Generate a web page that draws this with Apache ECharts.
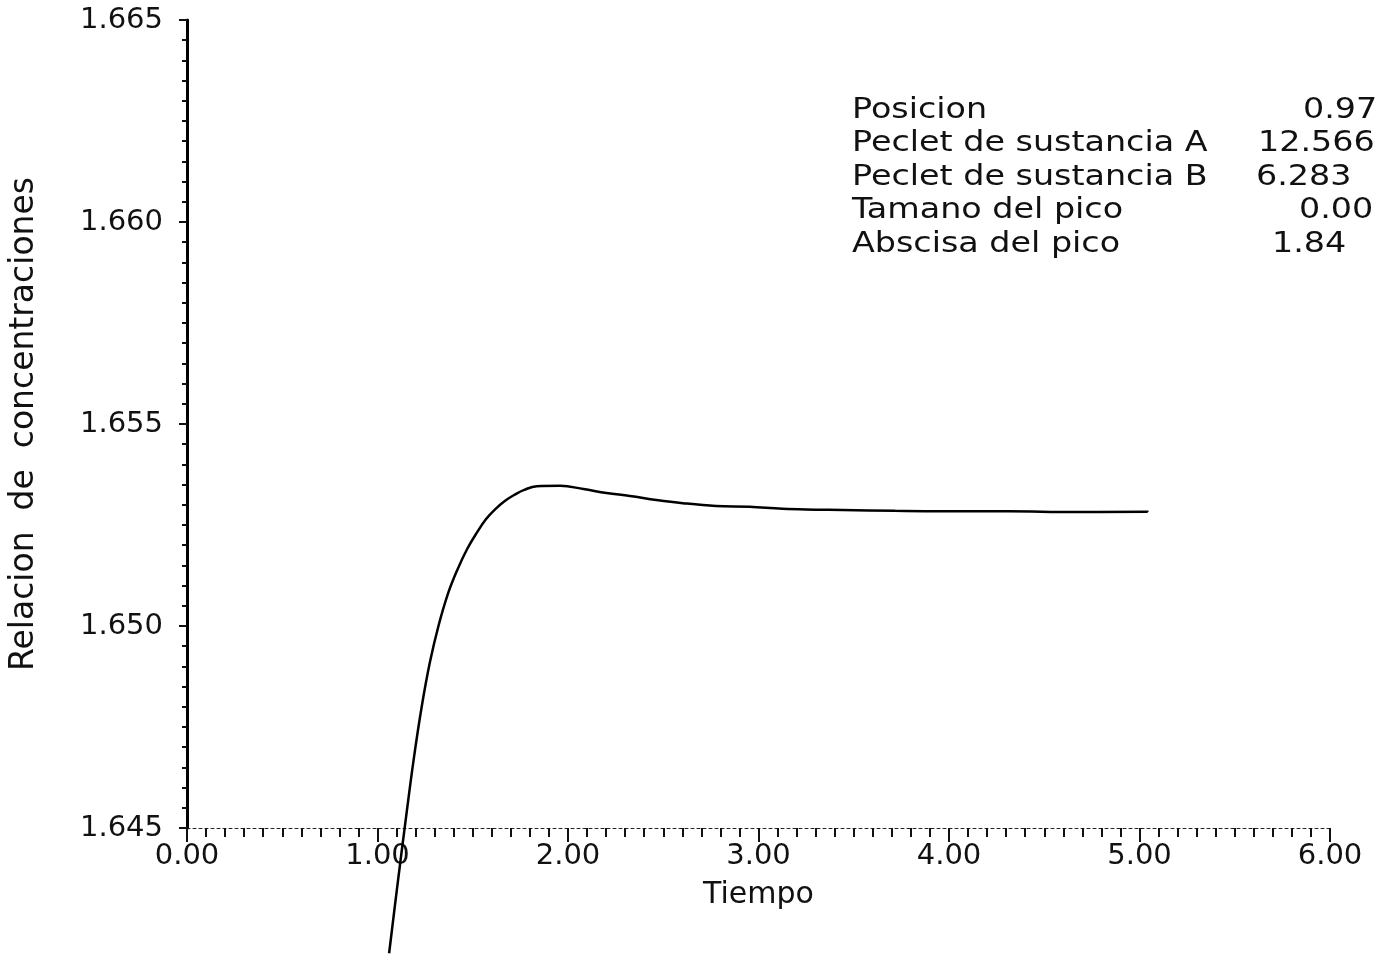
<!DOCTYPE html>
<html>
<head>
<meta charset="utf-8">
<title>Relacion de concentraciones</title>
<script src="https://cdn.jsdelivr.net/npm/echarts@6/dist/echarts.min.js"></script>
<style>
  html, body { margin: 0; padding: 0; background: #fff; }
  #chart { width: 1377px; height: 959px; }
</style>
</head>
<body>
<div id="chart"></div>
<script>
// valores (Tiempo, Relacion)
const tiempo = [1.061, 1.105, 1.148, 1.190, 1.232, 1.275, 1.320, 1.370, 1.420, 1.470, 1.520, 1.570, 1.620, 1.670, 1.720, 1.770, 1.836, 1.959, 2.081, 2.202, 2.325, 2.464, 2.603, 2.777, 2.952, 3.126, 3.300, 3.440, 3.717, 3.962, 4.311, 4.658, 5.043];
const relacion = [1.6419, 1.6436, 1.6452, 1.6467, 1.6480, 1.6491, 1.6500, 1.6508, 1.6514, 1.6519, 1.6523, 1.65265, 1.6529, 1.6531, 1.65325, 1.65337, 1.65346, 1.65347, 1.65339, 1.65329, 1.65322, 1.65312, 1.65304, 1.65297, 1.65295, 1.65290, 1.65288, 1.65287, 1.65285, 1.65284, 1.65284, 1.65282, 1.65283];

// cuadro de parametros
const paramNames = ['Posicion', 'Peclet de sustancia A', 'Peclet de sustancia B', 'Tamano del pico', 'Abscisa del pico'];
const paramValues = ['0.97', '12.566', '6.283', '0.00', '1.84'];
const paramValueX = [1303, 1258, 1256, 1299, 1272];

const FONT = 'DejaVu Sans';

const chart = echarts.init(document.getElementById('chart'));

// texto un poco ensanchado, como la letra del plotter
const textStyle = (text) => ({
  text: text,
  font: `29px "${FONT}"`,
  fill: '#111',
  textAlign: 'left',
  textVerticalAlign: 'middle',
});

const graphics = [];
paramNames.forEach((name, i) => {
  const y = 110 + i * 33.5;
  graphics.push({ type: 'text', x: 852, y: y, scaleX: 1.15, style: textStyle(name) });
  graphics.push({ type: 'text', x: paramValueX[i], y: y, scaleX: 1.15, style: textStyle(paramValues[i]) });
});

const option = {
  backgroundColor: '#fff',
  animation: false,
  grid: {
    left: 184,
    right: 47,
    top: 20,
    bottom: 131,
  },
  xAxis: {
    type: 'value',
    min: 0,
    max: 6,
    interval: 1,
    name: 'Tiempo',
    nameLocation: 'middle',
    nameGap: 52,
    nameTextStyle: { fontFamily: FONT, fontSize: 30, color: '#111' },
    axisLine: {
      show: true,
      lineStyle: { color: '#222', width: 1, type: [3, 3] },
    },
    axisTick: { show: true, length: 14, lineStyle: { color: '#111', width: 2 } },
    minorTick: { show: true, splitNumber: 10, length: 9, lineStyle: { color: '#111', width: 2 } },
    axisLabel: {
      fontFamily: FONT,
      fontSize: 29,
      color: '#111',
      margin: 14,
      formatter: (v) => v.toFixed(2),
    },
    splitLine: { show: false },
  },
  yAxis: {
    type: 'value',
    min: 1.645,
    max: 1.665,
    interval: 0.005,
    name: 'Relacion  de  concentraciones',
    nameLocation: 'middle',
    nameGap: 146,
    nameTextStyle: { fontFamily: FONT, fontSize: 33, color: '#111' },
    axisLine: { show: true, lineStyle: { color: '#000', width: 3 } },
    axisTick: { show: true, length: 8, lineStyle: { color: '#111', width: 2 } },
    minorTick: { show: true, splitNumber: 10, length: 5, lineStyle: { color: '#111', width: 2 } },
    axisLabel: {
      fontFamily: FONT,
      fontSize: 29,
      color: '#111',
      margin: 24,
      formatter: (v) => v.toFixed(3),
    },
    splitLine: { show: false },
  },
  graphic: graphics,
  series: [
    {
      type: 'line',
      data: tiempo.map((t, i) => [t, relacion[i]]),
      showSymbol: false,
      smooth: 0.4,
      clip: false, // la curva baja por debajo del eje
      lineStyle: { color: '#000', width: 2.5 },
    },
  ],
};

chart.setOption(option);
</script>
</body>
</html>
